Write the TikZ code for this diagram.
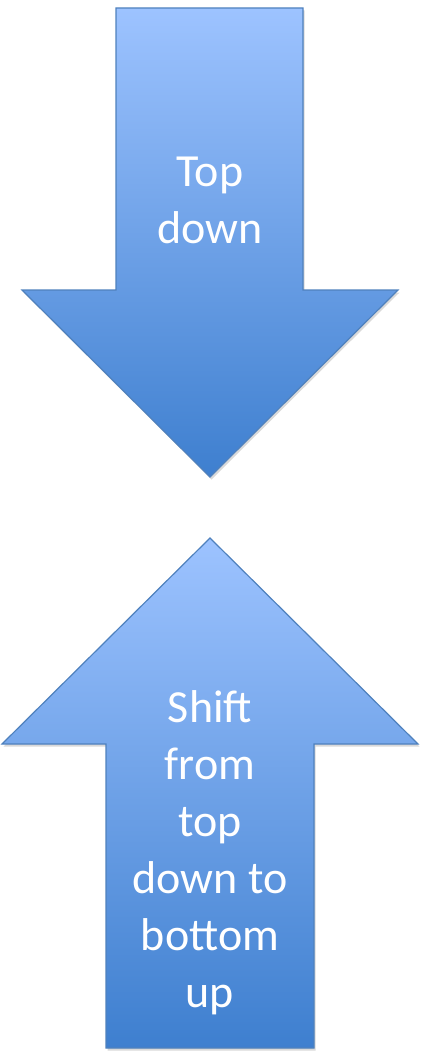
\documentclass[tikz,border=0pt]{standalone}
\usepackage{fontspec}
\setmainfont{Carlito}
\usetikzlibrary{shadows}
\definecolor{arrowlight}{HTML}{9DC3FF}
\definecolor{arrowdark}{HTML}{3E7FCF}
\definecolor{arrowline}{HTML}{4F81BD}

\begin{document}
\begin{tikzpicture}[x=1pt, y=-1pt,
  bigarrow/.style={draw=arrowline, line width=1.2pt, line join=miter, top color=arrowlight, bottom color=arrowdark, drop shadow={opacity=0.3, shadow xshift=1.5pt, shadow yshift=-2.5pt}},
  arrowtext/.style={text=white, align=center, font=\fontsize{46}{57}\selectfont}]
\useasboundingbox (0,0) rectangle (423,1059);
\path[bigarrow] (116,8) -- (303,8) -- (303,290) -- (398,290) -- (210,477) -- (22,290) -- (116,290) -- cycle;
\path[bigarrow] (210,538) -- (418,744) -- (314,744) -- (314,1048) -- (106,1048) -- (106,744) -- (2,744) -- cycle;
\node[arrowtext] (topdown) at (210,200) {Top\\down};
\node[arrowtext] (shift) at (210,853) {Shift\\from\\top\\down to\\bottom\\up};
\end{tikzpicture}
\end{document}
